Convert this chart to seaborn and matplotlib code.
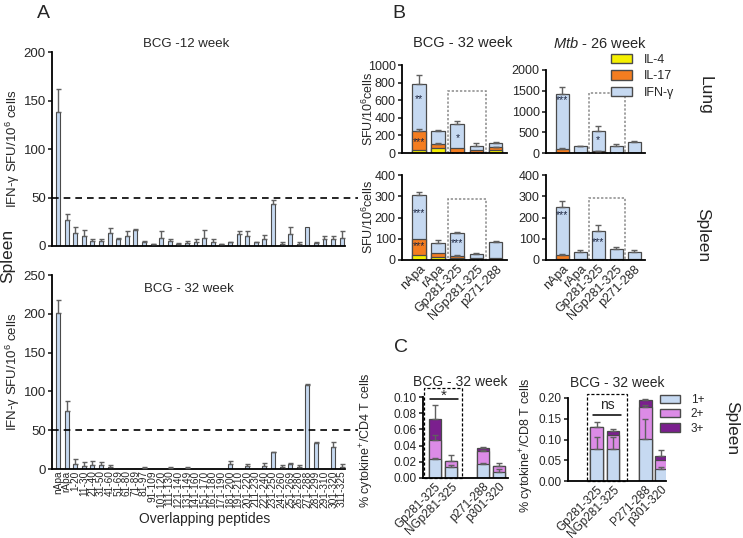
import numpy as np
import matplotlib
matplotlib.use("Agg")
import matplotlib.pyplot as plt
import seaborn as sns
from matplotlib.patches import Rectangle, Patch
from matplotlib.ticker import FormatStrFormatter

sns.set_style("ticks")
plt.rcParams['font.family'] = ['Liberation Sans', 'DejaVu Sans']
plt.rcParams['mathtext.fontset'] = 'custom'
plt.rcParams['mathtext.rm'] = 'Liberation Sans'
plt.rcParams['mathtext.it'] = 'Liberation Sans:italic'
plt.rcParams['mathtext.default'] = 'regular'

# ---- panel A data: IFN-g SFU per 10^6 spleen cells, overlapping peptides
peptides = ["nApa", "rApa", "1-20", "11-30", "21-40", "31-50", "41-60", "51-69",
            "61-80", "71-89", "81-97", "91-109", "101-120", "111-130", "121-140",
            "131-149", "141-160", "151-170", "161-180", "171-190", "181-200",
            "191-210", "201-220", "211-230", "221-240", "231-250", "241-260",
            "251-269", "261-280", "271-288", "281-299", "291-310", "301-320", "311-325"]
wk12 = [138, 27, 13, 10, 5, 5, 13, 7, 10, 16.5, 4, 2, 8.5, 5, 2, 3.5, 4, 8.5, 4.5, 2,
        4, 12, 10, 4, 7, 43, 2.5, 12.5, 2.5, 20, 3, 7.5, 7.5, 8]
wk12_err = [24, 6.5, 7, 7, 2.5, 2.5, 6, 1.5, 5, 1.5, 1, 0.5, 6.5, 2.5, 1, 1.5, 3, 8.5, 3, 0.5,
            0.5, 3, 5, 0.5, 4, 4, 2, 7.5, 2, 0, 1.5, 2.5, 2.5, 7]
wk32 = [201, 75, 6, 4, 5.5, 5.5, 3, 0, 0, 0, 1.5, 0, 0, 1.5, 0, 1.5, 0, 0, 0, 0,
        7, 0, 3.5, 0, 3.5, 22, 3, 7, 3, 108, 34, 0, 28, 3]
wk32_err = [17, 13, 7, 4.5, 5, 3, 2.5, 0, 0, 0, 1, 0, 0, 0.5, 0, 0.5, 0, 0, 0, 0,
            3, 0, 3.5, 0, 4, 0.5, 2, 0.5, 2, 2, 1, 0, 7, 4]

# ---- panel B data: stacked cytokine SFU (segment heights)
b_labels = ["nApa", "rApa", "Gp281-325", "NGp281-325", "p271-288"]
lung_bcg_il4 = [30, 55, 5, 15, 35]
lung_bcg_il17 = [220, 45, 55, 20, 30]
lung_bcg_ifng = [530, 155, 270, 45, 50]
lung_bcg_err = [110, 5, 35, 35, 15]
lung_bcg_err17 = [20, 10, 0, 0, 5]

lung_mtb_il4 = [0, 0, 0, 0, 0]
lung_mtb_il17 = [100, 10, 40, 5, 5]
lung_mtb_ifng = [1320, 150, 490, 155, 250]
lung_mtb_err = [180, 15, 110, 50, 45]
lung_mtb_err17 = [30, 0, 10, 0, 0]

spl_bcg_il4 = [25, 12, 8, 3, 2]
spl_bcg_il17 = [75, 20, 12, 5, 6]
spl_bcg_ifng = [208, 50, 108, 22, 79]
spl_bcg_err = [10, 13, 2, 3, 3]
spl_bcg_err17 = [0, 0, 3, 0, 0]

spl_mtb_il4 = [5, 0, 0, 0, 0]
spl_mtb_il17 = [20, 3, 3, 3, 3]
spl_mtb_ifng = [225, 35, 134, 49, 35]
spl_mtb_err = [30, 10, 28, 8, 10]
spl_mtb_err17 = [5, 0, 0, 0, 0]

# ---- panel C data: % polyfunctional T cells (segment heights)
cd4_labels = ["Gp281-325", "NGp281-325", "p271-288", "p301-320"]
cd4_1 = [0.023, 0.014, 0.017, 0.007]
cd4_2 = [0.024, 0.007, 0.016, 0.008]
cd4_3 = [0.026, 0.0, 0.004, 0.0]
cd4_e1 = [0.002, 0.002, 0.001, 0.004]
cd4_e2 = [0.006, 0.008, 0.002, 0.003]
cd4_e3 = [0.017, 0, 0.001, 0]

cd8_labels = ["Gp281-325", "NGp281-325", "P271-288", "p301-320"]
cd8_1 = [0.077, 0.077, 0.102, 0.030]
cd8_2 = [0.053, 0.035, 0.076, 0.021]
cd8_3 = [0.0, 0.008, 0.017, 0.010]
cd8_e1 = [0.028, 0.03, 0.048, 0.004]
cd8_e2 = [0.012, 0, 0.004, 0]
cd8_e3 = [0, 0.005, 0.003, 0.014]

BLUE = "#c6d9f1"
ORANGE = "#f47d20"
YELLOW = "#f5f000"
PINK = "#dc8be6"
PURPLE = "#7b1f8e"
EDGE = "#4a4a4a"
ERRC = "#606060"

W, H = 743, 538
fig = plt.figure(figsize=(W / 100, H / 100), dpi=100)


def px_axes(x0, y0, x1, y1):
    return fig.add_axes([x0 / W, 1 - y1 / H, (x1 - x0) / W, (y1 - y0) / H])


def style(ax, size=9):
    sns.despine(ax=ax)
    for s in ["left", "bottom"]:
        ax.spines[s].set_linewidth(1.3)
        ax.spines[s].set_color("black")
    ax.tick_params(axis="y", length=3, width=1.2, labelsize=size, pad=1.5)
    ax.tick_params(axis="x", length=0, pad=2)
    ax.set_xlabel("")
    ax.set_ylabel("")


def err(ax, pos, tops, e, cap=2.0):
    pos, tops, e = np.asarray(pos), np.asarray(tops, float), np.asarray(e, float)
    m = e > 0
    if m.any():
        ax.errorbar(pos[m], tops[m], yerr=[np.zeros(m.sum()), e[m]], fmt="none",
                    ecolor=ERRC, elinewidth=1.0, capsize=cap, capthick=1.0, zorder=3)


def peptide_panel(ax, vals, errs, ymax, yticks, title, ty, labels_on):
    sns.barplot(x=peptides, y=vals, order=peptides, color=BLUE, edgecolor=EDGE,
                linewidth=0.8, width=0.45, saturation=1, errorbar=None, ax=ax)
    err(ax, np.arange(len(peptides)), vals, errs, cap=1.8)
    ax.axhline(50, color="black", ls=(0, (4, 3)), lw=1.2)
    ax.set_xlim(-0.7, 34.9)
    ax.set_ylim(0, ymax)
    ax.set_yticks(yticks)
    style(ax, 9.5)
    ax.spines["bottom"].set_bounds(-0.7, 33.4)
    if labels_on:
        ax.tick_params(axis="x", labelsize=7.3, rotation=90, pad=1)
    else:
        ax.set_xticklabels([])
    fig.text(ty[0] / W, 1 - ty[1] / H, title, ha="center", va="center", fontsize=9.5)


def cytokine_panel(ax, il4, il17, ifng, e_tot, e_17, ymax, yticks, box_top, stars, xlab):
    c1 = np.array(il4, float)
    c2 = c1 + np.array(il17, float)
    c3 = c2 + np.array(ifng, float)
    for h, col in [(c3, BLUE), (c2, ORANGE), (c1, YELLOW)]:
        sns.barplot(x=b_labels, y=h, order=b_labels, color=col, edgecolor=EDGE,
                    linewidth=0.9, width=0.72, saturation=1, errorbar=None, ax=ax)
    pos = np.arange(len(b_labels))
    err(ax, pos, c3, e_tot)
    err(ax, pos, c2, e_17)
    ax.add_patch(Rectangle((1.5, 0), 2, box_top, fill=False, ec="#8a8a8a",
                           ls=(0, (1.5, 1.2)), lw=1.1, clip_on=False, zorder=0.5))
    for i, y, s in stars:
        ax.text(i, y, s, ha="center", va="center", fontsize=7.5, color="#1c2540")
    ax.set_xlim(-0.9, 4.6)
    ax.set_ylim(0, ymax)
    ax.set_yticks(yticks)
    style(ax, 9)
    if xlab:
        ax.set_xticks(pos)
        ax.set_xticklabels(b_labels, rotation=45, ha="right", va="top",
                           rotation_mode="anchor", fontsize=9)
    else:
        ax.set_xticklabels([])


def poly_panel(ax, labels, one, two, three, e1, e2, e3, ymax, yticks, xlim, box, sig):
    order = labels[:2] + [" "] + labels[2:]
    pos = [order.index(l) for l in labels]
    c1 = np.array(one, float)
    c2 = c1 + np.array(two, float)
    c3 = c2 + np.array(three, float)
    for h, col in [(c3, PURPLE), (c2, PINK), (c1, BLUE)]:
        sns.barplot(x=labels, y=h, order=order, color=col, edgecolor=EDGE,
                    linewidth=0.9, width=0.8, saturation=1, errorbar=None, ax=ax)
    err(ax, pos, c1, e1)
    err(ax, pos, c2, e2)
    err(ax, pos, c3, e3)
    ax.add_patch(Rectangle((box[0], 0), box[1] - box[0], box[2], fill=False, ec="black",
                           ls=(0, (2.5, 1.5)), lw=0.9, clip_on=False, zorder=0.5))
    ax.plot(sig[0], [sig[1], sig[1]], color="black", lw=1.1, clip_on=False)
    ax.text(np.mean(sig[0]), sig[2], sig[3], ha="center", va="center", fontsize=sig[4])
    ax.set_xlim(*xlim)
    ax.set_ylim(0, ymax)
    ax.set_yticks(yticks)
    ax.yaxis.set_major_formatter(FormatStrFormatter("%.2f"))
    style(ax, 8.5)
    ax.set_xticks(pos)
    ax.set_xticklabels(labels, rotation=45, ha="right", va="top",
                       rotation_mode="anchor", fontsize=8.5)


# ---------------- Panel A
axA1 = px_axes(52, 52, 358, 246)
peptide_panel(axA1, wk12, wk12_err, 200, [0, 50, 100, 150, 200], "BCG -12 week", (186, 44), False)
axA2 = px_axes(52, 275, 358, 469)
peptide_panel(axA2, wk32, wk32_err, 250, [0, 50, 100, 150, 200, 250], "BCG - 32 week", (189, 289), True)
axA2.set_xlabel("Overlapping peptides", fontsize=10, labelpad=3)
for ax, yc in [(axA1, 149), (axA2, 372)]:
    fig.text(13 / W, 1 - yc / H, "IFN-γ SFU/10$^{6}$ cells", rotation=90,
             ha="center", va="center", fontsize=9.5)
fig.text(8 / W, 1 - 256 / H, "Spleen", rotation=90, ha="center", va="center", fontsize=12.5)

# ---------------- Panel B
axB1 = px_axes(402, 65, 507, 153)
cytokine_panel(axB1, lung_bcg_il4, lung_bcg_il17, lung_bcg_ifng, lung_bcg_err, lung_bcg_err17,
               1000, [0, 200, 400, 600, 800, 1000], 700,
               [(0, 610, "**"), (0, 125, "***"), (2, 170, "*")], False)
axB2 = px_axes(546, 70, 645, 153)
cytokine_panel(axB2, lung_mtb_il4, lung_mtb_il17, lung_mtb_ifng, lung_mtb_err, lung_mtb_err17,
               2000, [0, 500, 1000, 1500, 2000], 1450,
               [(0, 1280, "***"), (2, 300, "*")], False)
axB3 = px_axes(402, 175, 507, 260)
cytokine_panel(axB3, spl_bcg_il4, spl_bcg_il17, spl_bcg_ifng, spl_bcg_err, spl_bcg_err17,
               400, [0, 100, 200, 300, 400], 285,
               [(0, 220, "***"), (0, 64, "***"), (2, 80, "***")], True)
axB4 = px_axes(546, 175, 645, 260)
cytokine_panel(axB4, spl_mtb_il4, spl_mtb_il17, spl_mtb_ifng, spl_mtb_err, spl_mtb_err17,
               400, [0, 100, 200, 300, 400], 290,
               [(0, 210, "***"), (2, 84, "***")], True)

fig.text(463 / W, 1 - 43 / H, "BCG - 32 week", ha="center", va="center", fontsize=10.5)
fig.text(600 / W, 1 - 44 / H, "$\\it{Mtb}$ - 26 week", ha="center", va="center", fontsize=10.5)
for yc in [109, 217]:
    fig.text(368 / W, 1 - yc / H, "SFU/10$^{6}$cells", rotation=90,
             ha="center", va="center", fontsize=9)
fig.text(705 / W, 1 - 95 / H, "Lung", rotation=270, ha="center", va="center", fontsize=12.5)
fig.text(703 / W, 1 - 235 / H, "Spleen", rotation=270, ha="center", va="center", fontsize=12.5)
fig.legend(handles=[Patch(fc=YELLOW, ec=EDGE, label="IL-4"),
                    Patch(fc=ORANGE, ec=EDGE, label="IL-17"),
                    Patch(fc=BLUE, ec=EDGE, label="IFN-γ")],
           loc="upper left", bbox_to_anchor=(611 / W, 1 - 54 / H), frameon=False,
           fontsize=9, handlelength=1.7, handleheight=0.75, labelspacing=0.35,
           handletextpad=0.9, borderpad=0, borderaxespad=0)

# ---------------- Panel C
axC1 = px_axes(423, 397, 508, 478)
poly_panel(axC1, cd4_labels, cd4_1, cd4_2, cd4_3, cd4_e1, cd4_e2, cd4_e3,
           0.10, [0, 0.02, 0.04, 0.06, 0.08, 0.10], (-0.75, 4.56),
           (-0.7, 1.7, 0.111), ([-0.3, 1.45], 0.097, 0.1015, "*", 11))
axC2 = px_axes(568, 398, 666, 481)
poly_panel(axC2, cd8_labels, cd8_1, cd8_2, cd8_3, cd8_e1, cd8_e2, cd8_e3,
           0.20, [0, 0.05, 0.10, 0.15, 0.20], (-1.8, 4.3),
           (-0.6, 1.9, 0.21), ([-0.25, 1.5], 0.16, 0.182, "ns", 10))
fig.text(460 / W, 1 - 382 / H, "BCG - 32 week", ha="center", va="center", fontsize=10)
fig.text(617 / W, 1 - 383 / H, "BCG - 32 week", ha="center", va="center", fontsize=10)
fig.text(367 / W, 1 - 440 / H, "% cytokine$^{+}$/CD4 T cells", rotation=90,
         ha="center", va="center", fontsize=9)
fig.text(527 / W, 1 - 445 / H, "% cytokine$^{+}$/CD8 T cells", rotation=90,
         ha="center", va="center", fontsize=9)
fig.text(732 / W, 1 - 428 / H, "Spleen", rotation=270, ha="center", va="center", fontsize=12.5)
fig.legend(handles=[Patch(fc=BLUE, ec=EDGE, label="1+"),
                    Patch(fc=PINK, ec=EDGE, label="2+"),
                    Patch(fc=PURPLE, ec=EDGE, label="3+")],
           loc="upper left", bbox_to_anchor=(660 / W, 1 - 394 / H), frameon=False,
           fontsize=8.5, handlelength=1.7, handleheight=0.7, labelspacing=0.2,
           handletextpad=0.9, borderpad=0, borderaxespad=0)

# panel letters
for s, x, y in [("A", 43, 13), ("B", 399, 13), ("C", 401, 348)]:
    fig.text(x / W, 1 - y / H, s, ha="center", va="center", fontsize=14)

fig.savefig("out.png", dpi=100)
